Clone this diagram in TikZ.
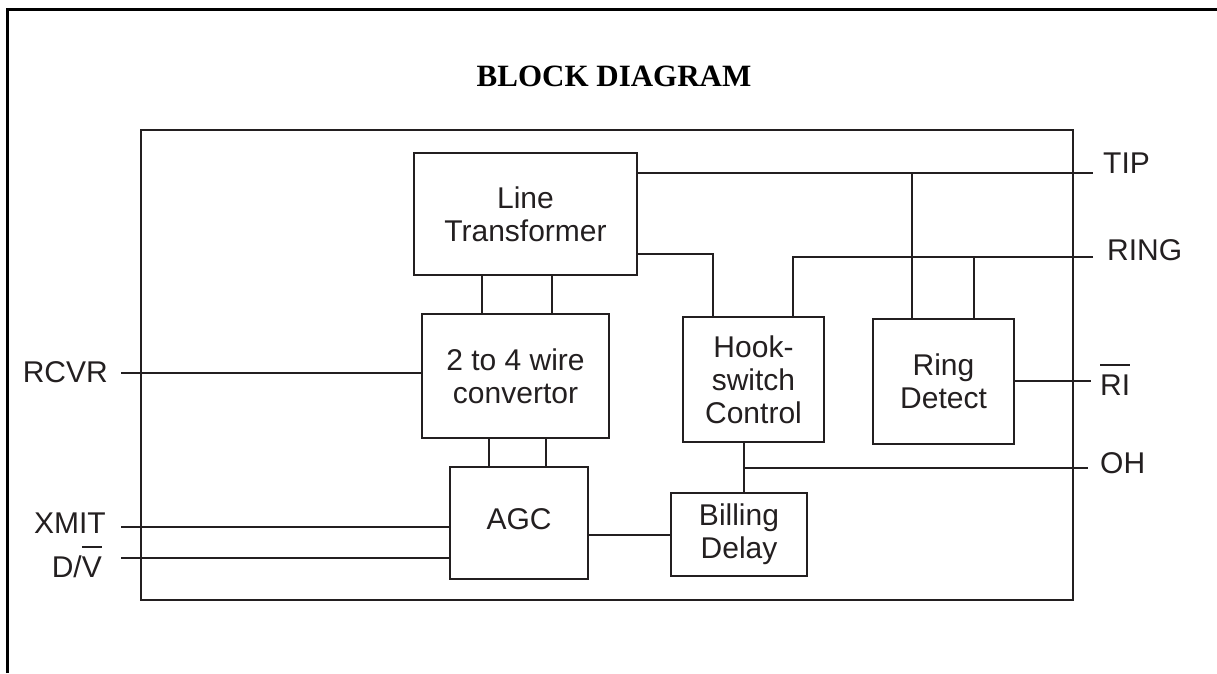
\documentclass[tikz,border=0pt]{standalone}
\usepackage{fontspec}
\setmainfont{Liberation Serif}
\newfontfamily\diagsans{Liberation Sans}
\definecolor{ink}{HTML}{231F20}
\newcommand\barover[1]{{\setbox0\hbox{#1}\rlap{\raisebox{29pt}{\rule{\wd0}{1.8pt}}}\box0}}
\begin{document}
\begin{tikzpicture}[x=1pt,y=-1pt,
  ink/.style={draw=ink, line width=1.9pt},
  blk/.style={ink, inner sep=0pt, align=center, text=ink,
    font=\diagsans\fontsize{30}{33}\selectfont},
  pin/.style={inner sep=0pt, text=ink, font=\diagsans\fontsize{30}{33}\selectfont},
  wire/.style={ink, line cap=butt}]
\useasboundingbox (0,0) rectangle (1217,673);
% outer frame (top and left)
\draw[draw=black, line width=3pt] (7,673) -- (7,9) -- (1217,9);
% title
\node[anchor=base, inner sep=0pt, font=\bfseries\fontsize{31}{34}\selectfont] (title) at (614,86) {BLOCK DIAGRAM};
% inner frame
\node[ink, inner sep=0pt, minimum width=932pt, minimum height=470pt] (frame) at (607,365) {};
% blocks
\node[blk, minimum width=223pt, minimum height=122pt] (LT) at (525.5,214) {Line\\Transformer};
\node[blk, minimum width=187pt, minimum height=124pt] (C24) at (515.5,376) {2 to 4 wire\\convertor};
\node[blk, minimum width=138pt, minimum height=112pt] (AGC) at (519,523) {\raisebox{7pt}{AGC}};
\node[blk, minimum width=136pt, minimum height=83pt] (BD) at (739,534.5) {Billing\\Delay};
\node[blk, minimum width=141pt, minimum height=125pt] (HS) at (753.5,379.5) {Hook-\\switch\\Control};
\node[blk, minimum width=141pt, minimum height=125pt] (RD) at (943.5,381.5) {Ring\\Detect};
% pin labels
\node[pin, anchor=base west] (TIP) at (1103,173) {TIP};
\node[pin, anchor=base west] (RING) at (1107,260) {RING};
\node[pin, anchor=base west] (RI) at (1100,395) {\barover{RI}};
\node[pin, anchor=base west] (OH) at (1100,473) {OH};
\node[pin, anchor=base east] (RCVR) at (108,382) {RCVR};
\node[pin, anchor=base east] (XMIT) at (106,533) {XMIT};
\node[pin, anchor=base east] (DV) at (102,577) {D/\barover{V}};
% wire end points and junctions
\coordinate (tipend) at (1093,173);
\coordinate (ringend) at (1093,257);
\coordinate (riend) at (1091,381);
\coordinate (ohend) at (1088,468);
\coordinate (rcvrend) at (121,373);
\coordinate (xmitend) at (121,527);
\coordinate (dvend) at (121,558);
\coordinate (tj) at (912,173);
\coordinate (rj) at (974,257);
\coordinate (rh) at (793,257);
\coordinate (lh) at (713,254);
\coordinate (hb) at (744,468);
\coordinate (ab) at (0,535);
\path ([xshift=-43.5pt]LT.south) coordinate (a1);
\path ([xshift=26.5pt]LT.south) coordinate (a2);
\path ([xshift=-26.5pt]C24.south) coordinate (b1);
\path ([xshift=30.5pt]C24.south) coordinate (b2);
% connectors
\draw[wire] (a1) -- (a1 |- C24.north);
\draw[wire] (a2) -- (a2 |- C24.north);
\draw[wire] (b1) -- (b1 |- AGC.north);
\draw[wire] (b2) -- (b2 |- AGC.north);
\draw[wire] (rcvrend) -- (rcvrend -| C24.west);
\draw[wire] (xmitend) -- (xmitend -| AGC.west);
\draw[wire] (dvend) -- (dvend -| AGC.west);
\draw[wire] (AGC.east |- ab) -- (BD.west |- ab);
\draw[wire] (LT.east |- lh) -- (lh) -- (lh |- HS.north);
\draw[wire] (ringend) -- (rh) -- (rh |- HS.north);
\draw[wire] (LT.east |- tipend) -- (tipend);
\draw[wire] (tj) -- (tj |- RD.north);
\draw[wire] (rj) -- (rj |- RD.north);
\draw[wire] (RD.east |- riend) -- (riend);
\draw[wire] (hb |- HS.south) -- (hb |- BD.north);
\draw[wire] (hb) -- (ohend);
\end{tikzpicture}
\end{document}
